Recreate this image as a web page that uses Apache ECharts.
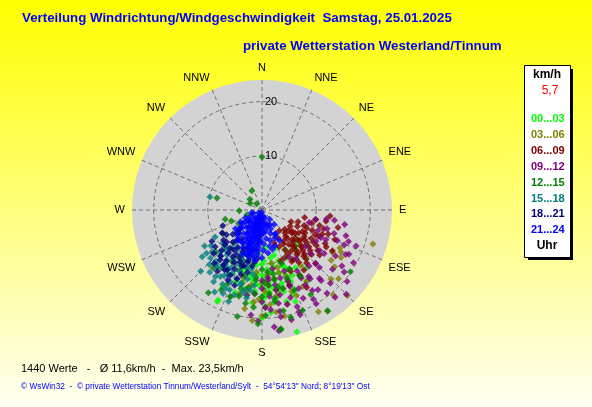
<!DOCTYPE html>
<html><head><meta charset="utf-8">
<script src="https://cdn.jsdelivr.net/npm/echarts@6/dist/echarts.min.js"></script>
<style>html,body{margin:0;padding:0;}#c{width:592px;height:407px;}</style>
</head><body><div id="c"></div>
<script>
// compass directions (tick labels of angle axis)
const directions = ['N','NNE','NE','ENE','E','ESE','SE','SSE','S','SSW','SW','WSW','W','WNW','NW','NNW'];
const radiusTicks = [10, 20];
const hourClasses = ['00...03','03...06','06...09','09...12','12...15','15...18','18...21','21...24'];
// each point: [speed km/h, direction deg]
const h00_03 = [[7,175],[7.5,160],[8,185],[8.5,150],[9,170],[9,195],[9.5,140],[9.8,162],[10,180],[10,152],[10.5,190],[10.8,168],[11,145],[11,175],[11.5,158],[11.8,185],[12,165],[12,198],[12.3,150],[12.5,178],[12.8,170],[13,160],[13,188],[13.3,155],[13.5,175],[13.8,195],[14,165],[14,182],[14.3,150],[14.5,172],[14.8,160],[15,185],[15,168],[15.5,178],[15.8,158],[16,190],[16.3,170],[16.8,180],[17.2,186],[17.5,165],[18.5,206],[18.8,206],[15.9,207],[23.4,164],[9.1,135],[8.5,130],[10.5,128],[12,138],[11.5,200],[13,205],[14,200],[9.5,205],[16,198],[19,175],[20,180],[6.5,190],[13.5,142],[15.5,148],[18,160],[17.2,172],
  [10,170],[11,160],[11.5,172],[12,180],[12.6,160],[13.2,170],[13.7,185],[14.2,158],[14.6,178],[15.2,175],[15.6,165],[16.1,178],[16.6,160],[12.2,190],[11.2,195],[10.2,186],[9.4,178],[8.6,165],[14.9,192],[17.8,178]];
const h03_06 = [[21.4,107],[16,116],[16.5,118],[22.3,135],[21.5,151],[22.3,147],[20.5,140],[19,132],[17,128],[18,135],[14,160],[15,165],[16,170],[17,158],[18,165],[13,170],[12,175],[13.5,180],[15,178],[16.5,182],[17.5,175],[19,172],[20,168],[11,165],[12,155],[14,150],[15.5,148],[19.5,180],[18.5,190],[16,195],[14,188],[17,200],[13,195],[20.5,185],[10,170],[11.5,185],[12.5,145],[15.2,121],[17,121],[15.8,126],
  [12,165],[13,160],[14,175],[15,170],[16,160],[17,185],[18,178],[14,195],[15,190],[16,152]];
const h06_09 = [[5,140],[5.5,130],[6,150],[6,120],[6.5,138],[7,128],[7,145],[7.2,115],[7.5,155],[7.8,135],[8,122],[8,142],[8.3,110],[8.5,150],[8.8,130],[9,118],[9,138],[9.3,145],[9.5,125],[9.8,155],[10,112],[10,133],[10.3,140],[10.5,120],[10.8,148],[11,105],[11,128],[11.3,136],[11.5,115],[11.8,145],[12,100],[12,123],[12.3,132],[12.6,95],[12.8,140],[13,110],[13.2,118],[13.5,128],[14,135],[14.4,103],[13.9,150],[12.5,155],[6.5,160],[10,160],[8,100],[9.5,105],[11,150],[7,108],[9,128],[10.5,142],[6.8,125],[12,112],[11.5,138],[15,120],[14.5,112],[8.2,135],[9.7,132],[5.8,112],[13.5,145],[14.8,160],[16.5,150],
  [6,135],[7,138],[7.5,125],[8,130],[8.5,118],[8.7,140],[9.2,122],[9.6,140],[10.2,126],[10.6,135],[11.2,122],[11.6,130],[12.2,138],[9.4,150],[10.8,115],[7.4,148],[6.2,128],[8.9,112],[12.7,126],[13.7,120],[11.9,107],[10.1,100]];
const h09_12 = [[9,105],[10,100],[11,110],[12,98],[12.5,106],[13,115],[14,108],[15,112],[16.2,107],[18.6,111],[18,117],[19,127],[16,122],[17,130],[15,135],[14,125],[13.5,140],[12,132],[11,145],[14.5,150],[15.5,145],[16.5,140],[17.5,148],[18.5,137],[19.5,142],[20,150],[20.6,160],[21.7,174],[22.5,172],[21,165],[19,160],[18,155],[17,162],[16,168],[15,160],[14,170],[13,165],[12,160],[13,150],[16,155],[17.5,170],[18.5,175],[20,170],[19,150],[21,140],[22,135],[20.5,130],[19.5,120],[17.5,118],[16.5,113],[15.5,100],[13.5,98],[11.5,120],[10.5,130],[12.5,175],[14.5,180],[15.5,185],[17,180],[19.5,186],[20.5,182],[16,190],[18,178],[10,150],[11,170],[13,180],
  [12,115],[13,125],[14,135],[15,145],[16,150],[17,140],[18,145],[14,160],[15,170],[16,175],[18,165],[19,170],[20,160],[17,110],[18,125],[13,175]];
const h12_15 = [[9.8,0],[4,332],[3,312],[8.6,285],[4.2,268],[7,256],[8.4,239],[1.5,320],[2.5,300],[2.9,252],[6.3,227],[18.2,213],[16.6,207],[20.2,193],[22.2,171],[22.4,171],[19.9,125],[22.2,147],[11,180],[12,170],[13,185],[14,175],[15,165],[16,180],[17,172],[18,185],[19,168],[12.5,195],[14.5,190],[16.5,195],[10,200],[11,210],[13,215],[15,205],[17,200],[12,155],[14,150],[16,158],[18,150],[20,158],[19.5,178],[21,182],[10.5,160],[9,190],[20.5,165],[13.5,160],[15.5,175],[6,250],[5,240],[11.5,228],[14,220],
  [11.5,175],[12.5,185],[13.5,178],[14.5,168],[15.5,185],[16.5,172],[17.5,190],[12,200],[13,170],[15,195]];
const h15_18 = [[9.9,284],[13,227],[12,230],[11,225],[10,222],[9,218],[14,224],[15,220],[15.9,202],[14.4,196],[15.1,192],[15.7,193],[16.5,198],[17,205],[14,210],[13,205],[12,200],[11,195],[10.5,210],[12.5,215],[13.5,218],[14.5,212],[15.5,208],[16,214],[11.5,235],[12.5,238],[10,240],[13,232],[9.5,230],[8.5,212],[10,200],[11,190],[12,188],[13,192],[14,186],[15,188],[16.5,190],[12,208],[13.5,200],[16,225],[17.5,210],[18,200],[14,232],[9,205],[8,220],[12.7,222],[11.3,215],
  [10.5,218],[11.5,222],[12.5,210],[13.5,208],[14.5,204],[15,215],[11,205],[12,214],[13,220],[14,196],[16,205],[9.5,225]];
const h18_21 = [[10.9,238],[9.4,227],[8,222],[9.7,188],[10.4,203],[13.4,206],[14.4,206],[7,210],[7.5,200],[8,195],[8.5,205],[9,215],[9.5,210],[10,195],[10,218],[10.5,225],[11,208],[11,200],[11.5,215],[12,205],[12,220],[12.5,198],[13,212],[13.5,200],[14,216],[6,225],[6.5,215],[7,230],[8,235],[9,232],[11,232],[12,228],[6.5,200],[7.5,190],[9,185],[10.5,190],[8.5,240],[7.8,248],[5.5,230],[13.2,222],[11.8,193],[12.8,210],[14.8,200],[8.8,198],[9.8,205],
  [7.2,220],[8.2,213],[9.2,220],[10.2,212],[10.8,198],[11.4,222],[12.4,215],[8.8,228],[9.6,195],[7.8,205]];
const h21_24 = [[0.5,190],[1,200],[1.2,175],[1.5,210],[1.8,185],[2,195],[2,220],[2.2,170],[2.5,205],[2.5,185],[2.8,215],[3,190],[3,200],[3,175],[3.2,225],[3.3,165],[3.5,195],[3.5,210],[3.6,182],[3.8,200],[4,188],[4,215],[4,170],[4.2,205],[4.3,222],[4.5,192],[4.5,180],[4.6,160],[4.8,212],[5,198],[5,186],[5,228],[5.2,205],[5.3,172],[5.5,193],[5.5,218],[5.7,183],[5.8,165],[6,200],[6,210],[6.2,190],[6.3,177],[6.5,205],[6.5,223],[6.7,195],[6.8,168],[7,185],[7,212],[7.2,200],[7.5,192],[7.5,178],[7.8,207],[8,196],[8.2,186],[8.5,200],[8.7,190],[9,195],[2.8,160],[3.8,155],[4.4,235],[1.4,160],[2.4,240],[6,235],[5,150],[7,160],[2.9,230],[5.2,152],[0.8,230],[1.7,250],[3.4,245],
  [1.5,185],[2.2,192],[2.7,198],[3.1,208],[3.4,185],[3.7,190],[4.1,197],[4.4,203],[4.7,186],[4.9,194],[5.1,212],[5.4,200],[5.6,188],[5.9,196],[6.1,184],[6.4,199],[6.6,188],[6.9,202],[7.3,194],[7.6,186],[7.9,198],[8.3,193],[4.2,176],[3.9,218],[5.8,206],[2.6,176],[1.9,215],[3.3,232],[7.1,218],[8.9,203],
  [5.2,231],[3.8,235],[7.1,219],[3.1,152],[5.7,155],[4.5,240],[6.2,228],[2,255],[6.5,150],[7.5,165],[8,172],[8.8,180],[9.3,188],[3.5,140],[2.2,140]];
const seriesData = [h00_03,h03_06,h06_09,h09_12,h12_15,h15_18,h18_21,h21_24];
const classColors = ['#00FF00','#808000','#800000','#800080','#008000','#008080','#000080','#0000FF'];

const chart = echarts.init(document.getElementById('c'));
const FF = 'Liberation Sans, Arial, sans-serif';
chart.setOption({
  animation: false,
  backgroundColor: new echarts.graphic.LinearGradient(0,0,0,1,[{offset:0,color:'#FFFF00'},{offset:1,color:'#FFFFF2'}]),
  title: [
    {text:'Verteilung Windrichtung/Windgeschwindigkeit  Samstag, 25.01.2025', left:22, top:12, padding:0,
     textStyle:{color:'#0000FF', fontSize:13.3, fontWeight:'bold', fontFamily:FF}},
    {text:'private Wetterstation Westerland/Tinnum', left:243, top:40, padding:0,
     textStyle:{color:'#0000FF', fontSize:13.3, fontWeight:'bold', fontFamily:FF}}
  ],
  polar: {center:[262,210], radius:130},
  angleAxis: {
    type:'value', min:0, max:360, interval:22.5, startAngle:90, clockwise:true,
    axisLine:{show:false}, axisTick:{show:false},
    axisLabel:{margin:7, color:'#000', fontSize:11, fontFamily:FF,
      formatter:function(v){ return v>=360 ? '' : directions[Math.round(v/22.5)%16]; }},
    splitLine:{show:true, lineStyle:{color:'#707070', width:1, type:[4,3]}},
    splitArea:{show:false}
  },
  radiusAxis: {
    type:'value', min:0, max:24, interval:10,
    axisLine:{show:false}, axisTick:{show:false},
    axisLabel:{color:'#000', fontSize:11, fontFamily:FF, margin:-3, align:'left', verticalAlign:'middle',
      formatter:function(v){ return radiusTicks.indexOf(v)>=0 ? String(v) : ''; }},
    splitLine:{show:true, lineStyle:{color:['#707070','#707070','#707070','rgba(0,0,0,0)'], width:1, type:[4,3]}}
  },
  legend: {
    orient:'vertical', left:526, top:112, icon:'none', itemWidth:0, itemHeight:14, itemGap:3.4,
    selectedMode:false, padding:0,
    data: hourClasses.map(function(n,i){ return {name:n, textStyle:{color:classColors[i], fontWeight:'bold', fontSize:11, fontFamily:FF}}; })
  },
  graphic: [
    {type:'circle', shape:{cx:262, cy:210, r:130}, style:{fill:'#D3D3D3'}, z:-1, silent:true},
    {type:'rect', shape:{x:528, y:69, width:45, height:191}, style:{fill:'#000'}, z:1},
    {type:'rect', shape:{x:524.5, y:65.5, width:46, height:192}, style:{fill:'#FFFFFF', stroke:'#000', lineWidth:1}, z:2},
    {type:'text', x:547, y:75, z:3, style:{text:'km/h', fill:'#000', font:'bold 12px '+FF, textAlign:'center', textVerticalAlign:'middle'}},
    {type:'text', x:550, y:91, z:3, style:{text:'5,7', fill:'#FF0000', font:'12px '+FF, textAlign:'center', textVerticalAlign:'middle'}},
    {type:'text', x:547, y:246, z:3, style:{text:'Uhr', fill:'#000', font:'bold 12px '+FF, textAlign:'center', textVerticalAlign:'middle'}},
    {type:'text', x:21, y:369, z:3, style:{text:'1440 Werte   -   Ø 11,6km/h  -  Max. 23,5km/h', fill:'#000', font:'11px '+FF, textVerticalAlign:'middle'}},
    {type:'text', x:21, y:387, z:3, style:{text:'© WsWin32  -  © private Wetterstation Tinnum/Westerland/Sylt  -  54°54\'13" Nord; 8°19\'13" Ost', fill:'#0000FF', font:'8.3px '+FF, textVerticalAlign:'middle'}}
  ],
  series: hourClasses.map(function(n,i){
    return {name:n, type:'scatter', coordinateSystem:'polar', symbol:'diamond', symbolSize:7,
      itemStyle:{color:classColors[i]}, data:seriesData[i]};
  })
});
</script></body></html>
